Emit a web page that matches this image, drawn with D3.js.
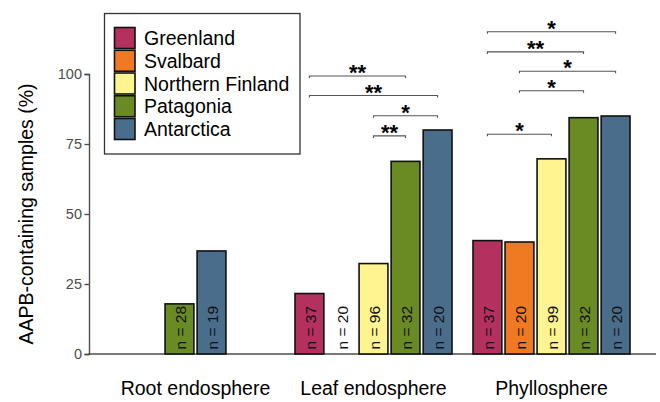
<!DOCTYPE html>
<html>
<head>
<meta charset="utf-8">
<script src="https://cdn.jsdelivr.net/npm/d3@7"></script>
<style>
  html, body { margin: 0; padding: 0; background: #fff; }
  svg { display: block; font-family: "Liberation Sans", Arial, Helvetica, sans-serif; }
</style>
</head>
<body>
<svg id="chart" width="660" height="402"></svg>
<script>
// Sampling regions (legend order) and plant compartments
const regions = ["Greenland", "Svalbard", "Northern Finland", "Patagonia", "Antarctica"];
const regionColors = ["#b3305f", "#f07a22", "#fff48f", "#6a8a23", "#4a6d8c"];
const compartments = ["Root endosphere", "Leaf endosphere", "Phyllosphere"];

// Share of samples containing AAPB (%) and sample sizes, per compartment
const rootRegions  = ["Patagonia", "Antarctica"];
const rootPct      = [17.9, 36.8];
const rootN        = [28, 19];

const leafRegions  = ["Greenland", "Svalbard", "Northern Finland", "Patagonia", "Antarctica"];
const leafPct      = [21.6, 0, 32.3, 68.8, 80.0];
const leafN        = [37, 20, 96, 32, 20];

const phylloRegions = ["Greenland", "Svalbard", "Northern Finland", "Patagonia", "Antarctica"];
const phylloPct     = [40.5, 40.0, 69.7, 84.4, 85.0];
const phylloN       = [37, 20, 99, 32, 20];

const yTicks = [0, 25, 50, 75, 100];

// Pairwise significance brackets: compartment, from, to, height (%), label
const sigCompartment = ["Leaf endosphere", "Leaf endosphere", "Leaf endosphere", "Leaf endosphere",
                        "Phyllosphere", "Phyllosphere", "Phyllosphere", "Phyllosphere", "Phyllosphere"];
const sigFrom  = ["Greenland", "Greenland", "Northern Finland", "Northern Finland",
                  "Greenland", "Greenland", "Svalbard", "Svalbard", "Greenland"];
const sigTo    = ["Patagonia", "Antarctica", "Antarctica", "Patagonia",
                  "Antarctica", "Patagonia", "Antarctica", "Patagonia", "Northern Finland"];
const sigY     = [99.3, 92.3, 85.1, 77.9, 115.1, 107.9, 101.0, 94.0, 78.5];
const sigLabel = ["**", "**", "*", "**", "*", "**", "*", "*", "*"];

// Build rows from the arrays
const groups = [
  { comp: compartments[0], regions: rootRegions, pct: rootPct, n: rootN },
  { comp: compartments[1], regions: leafRegions, pct: leafPct, n: leafN },
  { comp: compartments[2], regions: phylloRegions, pct: phylloPct, n: phylloN }
];

const svg = d3.select("#chart");

const x = d3.scaleBand().domain(compartments).range([88.7, 658.3]).paddingInner(0).paddingOuter(0.1);
const y = d3.scaleLinear().domain([0, 100]).range([354, 74]);
const color = d3.scaleOrdinal().domain(regions).range(regionColors);

const slot = x.bandwidth() * 0.9 / regions.length;

// Position of a region's bar within its compartment (dodged, centred)
function subScale(g) {
  const c = x(g.comp) + x.bandwidth() / 2;
  const w = slot * g.regions.length;
  return d3.scaleBand().domain(g.regions).range([c - w / 2, c + w / 2]).paddingInner(0.1).paddingOuter(0.05);
}
function barCenter(comp, region) {
  const g = groups.find(d => d.comp === comp);
  const s = subScale(g);
  return s(region) + s.bandwidth() / 2;
}

// Axes
const yAxis = svg.append("g")
  .attr("transform", "translate(89,0)")
  .call(d3.axisLeft(y).tickValues(yTicks).tickSize(4.5).tickPadding(2.5));
yAxis.select(".domain").attr("stroke", "#4d4d4d").attr("stroke-width", 1.4);
yAxis.selectAll(".tick line").attr("stroke", "#4d4d4d").attr("stroke-width", 1.4);
yAxis.selectAll(".tick text").attr("fill", "#4d4d4d").style("font-size", "14.5px")
  .style("font-family", "'Liberation Sans', Arial, sans-serif");

const xAxis = svg.append("g")
  .attr("transform", "translate(0,354)")
  .call(d3.axisBottom(x).tickSize(0).tickPadding(27));
xAxis.select(".domain").attr("d", "M88.3,0H656").attr("stroke", "#4d4d4d").attr("stroke-width", 1.4);
xAxis.selectAll(".tick text").attr("fill", "#000").style("font-size", "19.5px")
  .style("font-family", "'Liberation Sans', Arial, sans-serif");

// Y axis title
svg.append("text")
  .attr("transform", "translate(33,214) rotate(-90)")
  .attr("text-anchor", "middle")
  .style("font-size", "19.5px")
  .attr("fill", "#000")
  .text("AAPB-containing samples (%)");

// Bars and sample-size labels
groups.forEach(g => {
  const s = subScale(g);
  const rows = g.regions.map((r, i) => ({ region: r, pct: g.pct[i], n: g.n[i] }));
  const layer = svg.append("g");
  layer.selectAll("rect")
    .data(rows.filter(d => d.pct > 0))
    .join("rect")
    .attr("x", d => s(d.region))
    .attr("y", d => y(d.pct))
    .attr("width", s.bandwidth())
    .attr("height", d => y(0) - y(d.pct))
    .attr("fill", d => color(d.region))
    .attr("stroke", "#111")
    .attr("stroke-width", 1.6);
  layer.selectAll("text")
    .data(rows)
    .join("text")
    .attr("transform", d => `translate(${s(d.region) + s.bandwidth() / 2 + 0.8},349.5) rotate(-90)`)
    .attr("dy", "0.36em")
    .attr("text-anchor", "start")
    .style("font-size", "15.5px")
    .attr("fill", "#111")
    .text(d => `n = ${d.n}`);
});

// Significance brackets
const sig = sigLabel.map((lab, i) => ({
  comp: sigCompartment[i], from: sigFrom[i], to: sigTo[i], yv: sigY[i], label: lab
}));
const sigG = svg.append("g");
sig.forEach(d => {
  const x1 = barCenter(d.comp, d.from);
  const x2 = barCenter(d.comp, d.to);
  const yy = y(d.yv);
  sigG.append("path")
    .attr("d", `M${x1},${yy + 2}V${yy}H${x2}V${yy + 2}`)
    .attr("fill", "none")
    .attr("stroke", "#555")
    .attr("stroke-width", 1.1);
  sigG.append("text")
    .attr("x", (x1 + x2) / 2)
    .attr("y", yy + 4)
    .attr("text-anchor", "middle")
    .style("font-size", "22px")
    .style("font-weight", "bold")
    .attr("fill", "#000")
    .text(d.label);
});

// Legend
const legend = svg.append("g");
legend.append("rect")
  .attr("x", 104.5).attr("y", 13.5).attr("width", 195.5).attr("height", 140.5)
  .attr("fill", "#fff").attr("stroke", "#333").attr("stroke-width", 1.3);
regions.forEach((r, i) => {
  const cy = 38 + i * 22.75;
  legend.append("rect")
    .attr("x", 114.5).attr("y", cy - 10.5).attr("width", 20.5).attr("height", 21)
    .attr("fill", color(r)).attr("stroke", "#111").attr("stroke-width", 1.6);
  legend.append("text")
    .attr("x", 144).attr("y", cy + 7)
    .style("font-size", "19.5px")
    .attr("fill", "#000")
    .text(r);
});
</script>
</body>
</html>
